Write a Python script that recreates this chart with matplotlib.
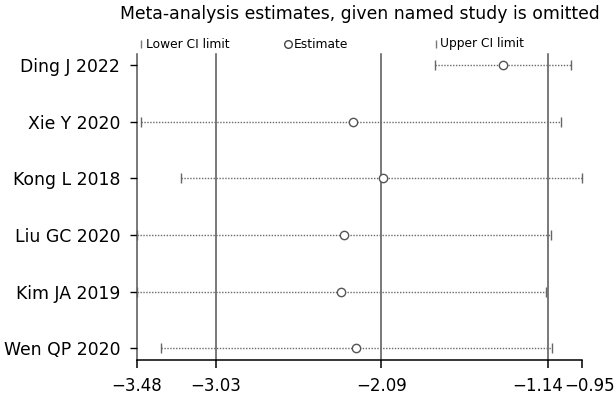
import matplotlib
matplotlib.use("Agg")
import matplotlib.pyplot as plt
from matplotlib.lines import Line2D
from matplotlib.transforms import ScaledTranslation

plt.rcParams['font.family'] = ['DejaVu Sans']

studies = ["Ding J 2022", "Xie Y 2020", "Kong L 2018", "Liu GC 2020", "Kim JA 2019", "Wen QP 2020"]
estimate = [-1.396, -2.252, -2.080, -2.301, -2.319, -2.233]
lower = [-1.784, -3.454, -3.230, -3.480, -3.480, -3.342]
upper = [-1.013, -1.068, -0.950, -1.125, -1.155, -1.121]

overall_lower = -3.03
overall_est = -2.09
overall_upper = -1.14
xticks = [-3.48, -3.03, -2.09, -1.14, -0.95]
xlabels = ["\u22123.48", "\u22123.03", "\u22122.09", "\u22121.14", "\u22120.95"]
title = "Meta-analysis estimates, given named study is omitted"
legend_labels = ["Lower CI limit", "Estimate", "Upper CI limit"]

W, H = 615, 394
fig = plt.figure(figsize=(W / 100, H / 100), dpi=100)
ax = fig.add_axes([136.7 / W, 1 - 359.5 / H, (581.7 - 136.7) / W, (359.5 - 54) / H])

n = len(studies)
ypos = list(range(n, 0, -1))

ax.set_xlim(min(xticks), max(xticks))
ax.set_ylim(0.8, n + 0.2)

# reference vertical lines
for xv in [min(xticks), overall_lower, overall_est, overall_upper]:
    ax.axvline(xv, color="#555555", lw=1.1, zorder=1, clip_on=False)

# CI dotted lines
for y, lo, hi in zip(ypos, lower, upper):
    ax.plot([lo, hi], [y, y], color="#6a6a6a", lw=1.0, ls=(0, (1, 1.1)), zorder=2, clip_on=False)
ax.plot(lower, ypos, ls="none", marker="|", ms=7, mew=1.0, color="#666666", zorder=3, clip_on=False)
ax.plot(upper, ypos, ls="none", marker="|", ms=7, mew=1.0, color="#666666", zorder=3, clip_on=False)
ax.plot(estimate, ypos, ls="none", marker="o", ms=6, mfc="white", mec="#555555", mew=1.0, zorder=4, clip_on=False)

# axes styling
for s in ["top", "right", "left"]:
    ax.spines[s].set_visible(False)
ax.spines["bottom"].set_bounds(min(xticks), max(xticks))
ax.spines["bottom"].set_linewidth(1.1)
ax.set_xticks(xticks)
ax.set_xticklabels(xlabels)
ax.set_yticks(ypos)
ax.set_yticklabels(studies)
ax.tick_params(axis="x", length=5.8, width=1.1, pad=6.5, labelsize=12, colors="black")
ax.tick_params(axis="y", length=5.3, width=1.0, pad=6.5, labelsize=12.4, colors="black")

# nudge the two crowded right-hand labels apart as in the reference
labs = ax.get_xticklabels()
labs[3].set_transform(labs[3].get_transform() + ScaledTranslation(-11 / 100, 0, fig.dpi_scale_trans))
labs[4].set_transform(labs[4].get_transform() + ScaledTranslation(8 / 100, 0, fig.dpi_scale_trans))

fig.text(360 / W, 1 - 14 / H, title, ha="center", va="center", fontsize=12.4)

# legend
ly = 1 - 44 / H
fig.add_artist(Line2D([140.7 / W], [ly], marker="|", ms=6, mew=1.0, color="#777777", ls="none"))
fig.text(146.5 / W, ly, legend_labels[0], ha="left", va="center", fontsize=8.8)
fig.add_artist(Line2D([287.7 / W], [ly], marker="o", ms=5.5, mfc="white", mec="#444444", mew=1.0, ls="none"))
fig.text(294 / W, ly, legend_labels[1], ha="left", va="center", fontsize=8.8)
fig.add_artist(Line2D([436 / W], [ly], marker="|", ms=6, mew=1.0, color="#777777", ls="none"))
fig.text(440 / W, ly, legend_labels[2], ha="left", va="center", fontsize=8.8)

fig.savefig("out.png", dpi=100)
